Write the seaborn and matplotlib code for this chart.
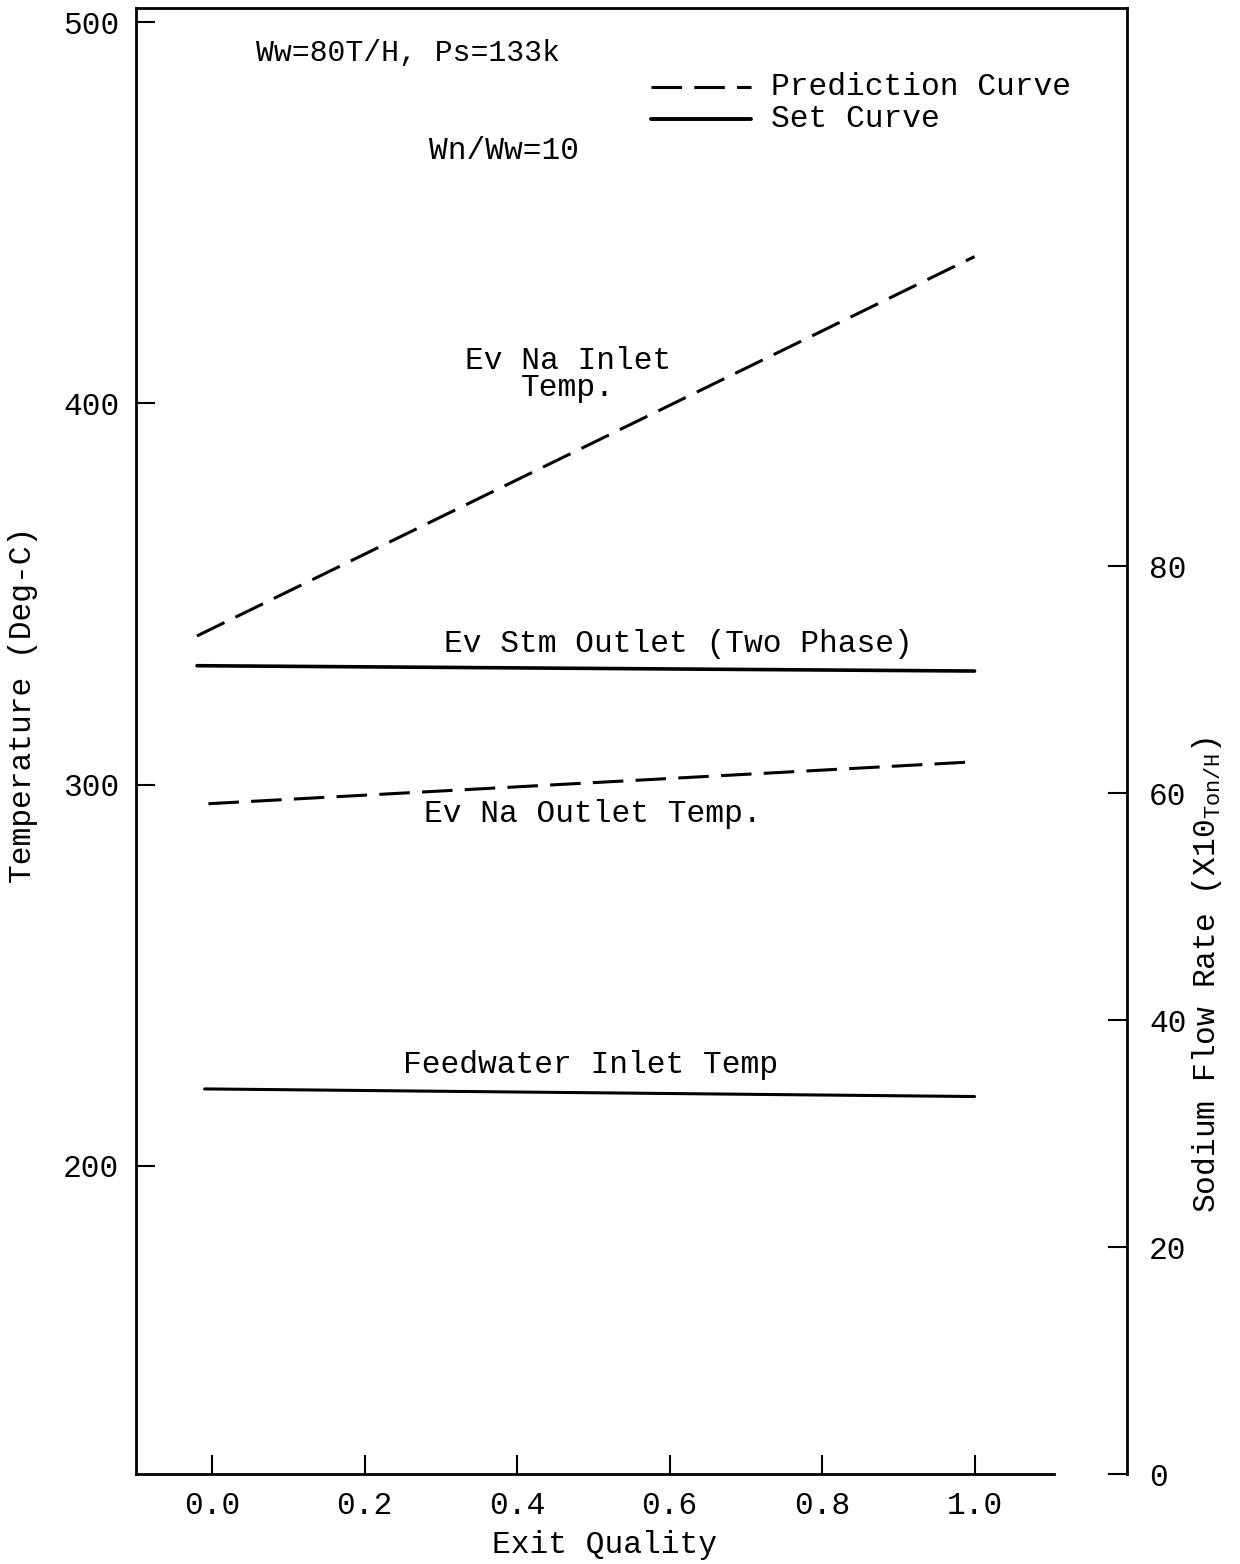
import matplotlib
matplotlib.use("Agg")
import matplotlib.pyplot as plt
import seaborn as sns

# ---- data ----
quality_inlet = [-0.02, 1.0]
na_inlet_temp = [339.0, 438.5]

quality_stm = [-0.02, 1.0]
stm_outlet_temp = [331.2, 329.8]

quality_na_out = [-0.005, 1.0]
na_outlet_temp = [295.0, 306.0]

quality_fw = [-0.01, 1.0]
feedwater_temp = [220.2, 218.2]

x_ticks = [0.0, 0.2, 0.4, 0.6, 0.8, 1.0]
x_tick_labels = ["0.0", "0.2", "0.4", "0.6", "0.8", "1.0"]
temp_ticks = [200, 300, 400, 500]
flow_ticks = [0, 20, 40, 60, 80]

sns.set_theme(style="white")
FONT = "Liberation Mono"
plt.rcParams["font.family"] = [FONT, "DejaVu Sans"]
plt.rcParams["mathtext.fontset"] = "custom"
plt.rcParams["mathtext.rm"] = FONT
plt.rcParams["mathtext.it"] = FONT
plt.rcParams["text.color"] = "black"
plt.rcParams["axes.labelcolor"] = "black"
FS = 22.5

W, H = 1240, 1564
fig = plt.figure(figsize=(W / 100, H / 100), dpi=100)
left, right, top, bottom = 136, 1127, 8, 1474
AW, AH = right - left, bottom - top
ax = fig.add_axes([left / W, (H - bottom) / H, AW / W, AH / H])

dash = (10, 4)
k = dict(color="black", linewidth=2.2, ax=ax, legend=False)
sns.lineplot(x=quality_inlet, y=na_inlet_temp, **k).lines[-1].set_dashes(dash)
sns.lineplot(x=quality_stm, y=stm_outlet_temp, **k).lines[-1].set_linewidth(2.6)
sns.lineplot(x=quality_na_out, y=na_outlet_temp, **k).lines[-1].set_dashes(dash)
sns.lineplot(x=quality_fw, y=feedwater_temp, **k)

ax.set_xlim(-0.1, 1.2)
ax.set_ylim(119.2, 503.7)
ax.set_xticks(x_ticks)
ax.set_xticklabels(x_tick_labels)
ax.set_yticks(temp_ticks)
ax.tick_params(axis="both", direction="in", length=14, width=1.5, labelsize=FS,
               pad=12, colors="black")
ax.tick_params(axis="x", top=False, bottom=True)
ax.tick_params(axis="y", left=True, right=False)
for s in ax.spines.values():
    s.set_color("black")
    s.set_linewidth(2)
ax.spines["bottom"].set_bounds(-0.1, 1.104)

ax.set_xlabel("Exit Quality", fontsize=FS)
ax.xaxis.set_label_coords((604 - left) / AW, (bottom - 1530) / AH)
ax.set_ylabel("Temperature (Deg-C)", fontsize=FS)
ax.yaxis.set_label_coords((38 - left) / AW, (bottom - 705) / AH)

ax2 = ax.twinx()
ax2.set_ylim(0, 129.2)
ax2.set_yticks(flow_ticks)
ax2.tick_params(axis="y", direction="in", length=14, width=1.5, labelsize=FS,
                pad=16, colors="black")
for s in ax2.spines.values():
    s.set_visible(False)
ax2.set_ylabel(r"Sodium Flow Rate (X10$_{\mathrm{Ton/H}}$)", fontsize=FS)
ax2.yaxis.set_label_coords((1190 - left) / AW, (bottom - 975) / AH)

# annotations
ax.text(0.057, 491.8, "Ww=80T/H, Ps=133k", fontsize=21.5, va="center", ha="left")
ax.text(0.285, 466.3, "Wn/Ww=10", fontsize=FS, va="center", ha="left")

# legend-like key
ax.plot([0.575, 0.707], [482.9, 482.9], color="black", lw=2.2, dashes=dash)
ax.plot([0.575, 0.707], [474.5, 474.5], color="black", lw=2.8)
ax.text(0.733, 483.0, "Prediction Curve", fontsize=FS, va="center", ha="left")
ax.text(0.733, 474.6, "Set Curve", fontsize=FS, va="center", ha="left")

ax.text(0.467, 407.6, "Ev Na Inlet\nTemp.", fontsize=FS, va="center", ha="center",
        linespacing=0.85)
ax.text(0.611, 337.0, "Ev Stm Outlet (Two Phase)", fontsize=FS, va="center", ha="center")
ax.text(0.499, 292.4, "Ev Na Outlet Temp.", fontsize=FS, va="center", ha="center")
ax.text(0.496, 226.5, "Feedwater Inlet Temp", fontsize=FS, va="center", ha="center")

fig.savefig("out.png", dpi=100, facecolor="white")
